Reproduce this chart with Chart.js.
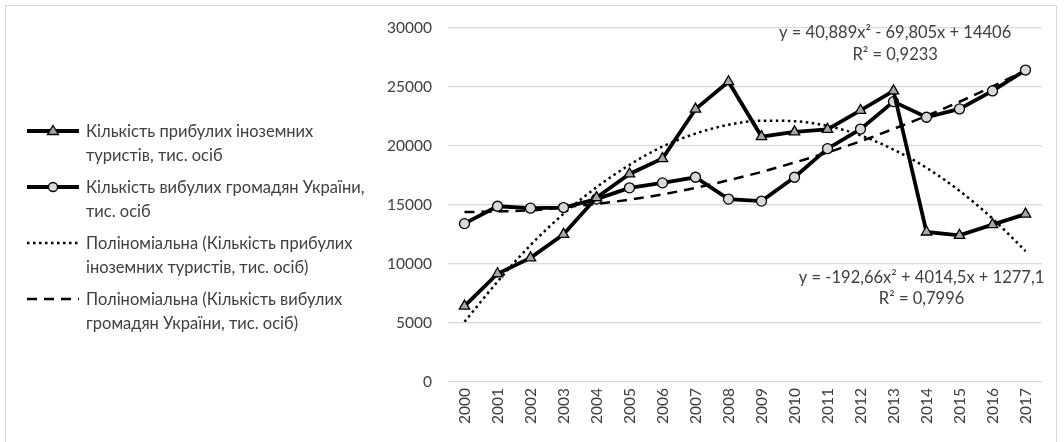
<!DOCTYPE html>
<html>
<head>
<meta charset="utf-8">
<script src="https://cdn.jsdelivr.net/npm/chart.js@4/dist/chart.umd.min.js"></script>
<style>
	body { margin: 0; background: #fff; }
	#wrap { position: relative; width: 1064px; height: 442px; overflow: hidden; font-family: Lato, "Open Sans", sans-serif; }
	#frame { position: absolute; left: 5px; top: 5px; width: 1052px; height: 445px; border: 1px solid #d9d9d9; box-sizing: border-box; }
	#chart { position: absolute; left: 0; top: 0; }
	.item { position: absolute; left: 26px; width: 360px; font-size: 16.5px; line-height: 24px; color: #404040; }
	.item svg { position: absolute; left: 0; top: 2px; }
	.item span { display: block; margin-left: 60px; }
</style>
</head>
<body>
<div id="wrap">
	<div id="frame"></div>
	<canvas id="chart" width="1064" height="442"></canvas>
	<div id="legend"></div>
</div>
<script>
var years = ['2000', '2001', '2002', '2003', '2004', '2005', '2006', '2007', '2008', '2009',
	'2010', '2011', '2012', '2013', '2014', '2015', '2016', '2017'];

// прибулі іноземні туристи, тис. осіб
var arrivals = [6430, 9174, 10517, 12514, 15629, 17631, 18936, 23122, 25449, 20798,
	21203, 21415, 23013, 24671, 12712, 12428, 13333, 14230];

// вибулі громадяни України, тис. осіб
var departures = [13422, 14892, 14729, 14785, 15499, 16454, 16875, 17350, 15499, 15334,
	17350, 19773, 21433, 23761, 22438, 23142, 24668, 26437];

// trend lines
var arrivalsTrend = [5100, 8500, 11600, 14250, 16500, 18400, 19950, 21050, 21800, 22150,
	22100, 21700, 20900, 19700, 18150, 16200, 13850, 11100];
var departuresTrend = [14400, 14450, 14550, 14800, 15100, 15450, 15900, 16450, 17100, 17800,
	18600, 19450, 20400, 21450, 22550, 23750, 25050, 26400];

var yTicks = [0, 5000, 10000, 15000, 20000, 25000, 30000];

var legendItems = [
	{ text: ['Кількість прибулих іноземних', 'туристів, тис. осіб'], kind: 'triangle' },
	{ text: ['Кількість вибулих громадян України,', 'тис. осіб'], kind: 'circle' },
	{ text: ['Поліноміальна (Кількість прибулих', 'іноземних туристів, тис. осіб)'], kind: 'dot' },
	{ text: ['Поліноміальна (Кількість вибулих', 'громадян України, тис. осіб)'], kind: 'dash' }
];

// equation labels: [category index, value, text]
var equations = [
	[13.05, 29640, 'y = 40,889x² - 69,805x + 14406'],
	[13.05, 27700, 'R² = 0,9233'],
	[13.85, 8850, 'y = -192,66x² + 4014,5x + 1277,1'],
	[13.85, 7050, 'R² = 0,7996']
];

function build_legend() {
	var box = document.getElementById('legend');
	var tops = [119, 175, 231, 287];
	for (let i = 0; i < legendItems.length; i++) {
		let it = legendItems[i];
		let div = document.createElement('div');
		div.className = 'item';
		div.style.top = tops[i] + 'px';
		let svg = '<svg width="56" height="20">';
		if (it.kind == 'triangle' || it.kind == 'circle') {
			svg += '<line x1="1" y1="10" x2="53" y2="10" stroke="#000" stroke-width="4"/>';
			if (it.kind == 'triangle') {
				svg += '<polygon points="27,4.5 32.5,13.5 21.5,13.5" fill="#a6a6a6" stroke="#000" stroke-width="1.3"/>';
			} else {
				svg += '<circle cx="27" cy="10" r="4.5" fill="#d9d9d9" stroke="#000" stroke-width="1.3"/>';
			}
		} else if (it.kind == 'dot') {
			svg += '<line x1="1" y1="10" x2="53" y2="10" stroke="#000" stroke-width="2.5" stroke-dasharray="2.5,3.5"/>';
		} else {
			svg += '<line x1="1" y1="10" x2="53" y2="10" stroke="#000" stroke-width="2.5" stroke-dasharray="10,7"/>';
		}
		svg += '</svg>';
		div.innerHTML = svg + '<span>' + it.text[0] + '</span><span>' + it.text[1] + '</span>';
		box.appendChild(div);
	}
}

var equationPlugin = {
	id: 'equations',
	afterDatasetsDraw: function (chart) {
		var ctx = chart.ctx;
		var x = chart.scales.x, y = chart.scales.y;
		ctx.save();
		ctx.font = '16.5px Lato, "Open Sans", sans-serif';
		ctx.fillStyle = '#404040';
		ctx.textAlign = 'center';
		ctx.textBaseline = 'middle';
		for (let eq of equations) {
			ctx.fillText(eq[2], x.getPixelForValue(eq[0]), y.getPixelForValue(eq[1]));
		}
		ctx.restore();
	}
};

window.onload = function () {
	build_legend();

	var ctx = document.getElementById('chart').getContext('2d');
	var chart = new Chart(ctx, {
		type: 'line',
		data: {
			labels: years,
			datasets: [{
				label: 'Кількість прибулих іноземних туристів, тис. осіб',
				data: arrivals,
				borderColor: '#000',
				borderWidth: 3.8,
				pointStyle: 'triangle',
				pointRadius: 6,
				pointBackgroundColor: '#a6a6a6',
				pointBorderColor: '#000',
				pointBorderWidth: 1.3,
				tension: 0
			}, {
				label: 'Кількість вибулих громадян України, тис. осіб',
				data: departures,
				borderColor: '#000',
				borderWidth: 3.8,
				pointStyle: 'circle',
				pointRadius: 5,
				pointBackgroundColor: '#d9d9d9',
				pointBorderColor: '#000',
				pointBorderWidth: 1.3,
				tension: 0
			}, {
				label: 'Поліноміальна (Кількість прибулих іноземних туристів, тис. осіб)',
				data: arrivalsTrend,
				borderColor: '#000',
				borderWidth: 2.5,
				borderDash: [2.5, 3.5],
				pointRadius: 0,
				cubicInterpolationMode: 'monotone'
			}, {
				label: 'Поліноміальна (Кількість вибулих громадян України, тис. осіб)',
				data: departuresTrend,
				borderColor: '#000',
				borderWidth: 2.5,
				borderDash: [10, 7],
				pointRadius: 0,
				cubicInterpolationMode: 'monotone'
			}]
		},
		options: {
			responsive: false,
			animation: false,
			events: [],
			layout: { padding: { left: 380, right: 22, top: 28, bottom: 0 } },
			plugins: {
				legend: { display: false },
				tooltip: { enabled: false }
			},
			scales: {
				x: {
					offset: true,
					grid: { display: false, drawTicks: false },
					border: { display: false },
					ticks: {
						minRotation: 90,
						maxRotation: 90,
						padding: 6,
						color: '#404040',
						font: { family: 'Lato', size: 15.5 }
					},
					afterFit: function (scale) { scale.height = 60; }
				},
				y: {
					min: 0,
					max: 30000,
					afterBuildTicks: function (scale) {
						scale.ticks = yTicks.map(function (v) { return { value: v }; });
					},
					grid: { color: '#d9d9d9', lineWidth: 1.3, drawTicks: false },
					border: { display: false },
					ticks: {
						padding: 16,
						color: '#404040',
						font: { family: 'Lato', size: 15.5 },
						callback: function (v) { return String(v); }
					},
					afterFit: function (scale) { scale.width = 68; }
				}
			}
		},
		plugins: [equationPlugin]
	});
};
</script>
</body>
</html>
